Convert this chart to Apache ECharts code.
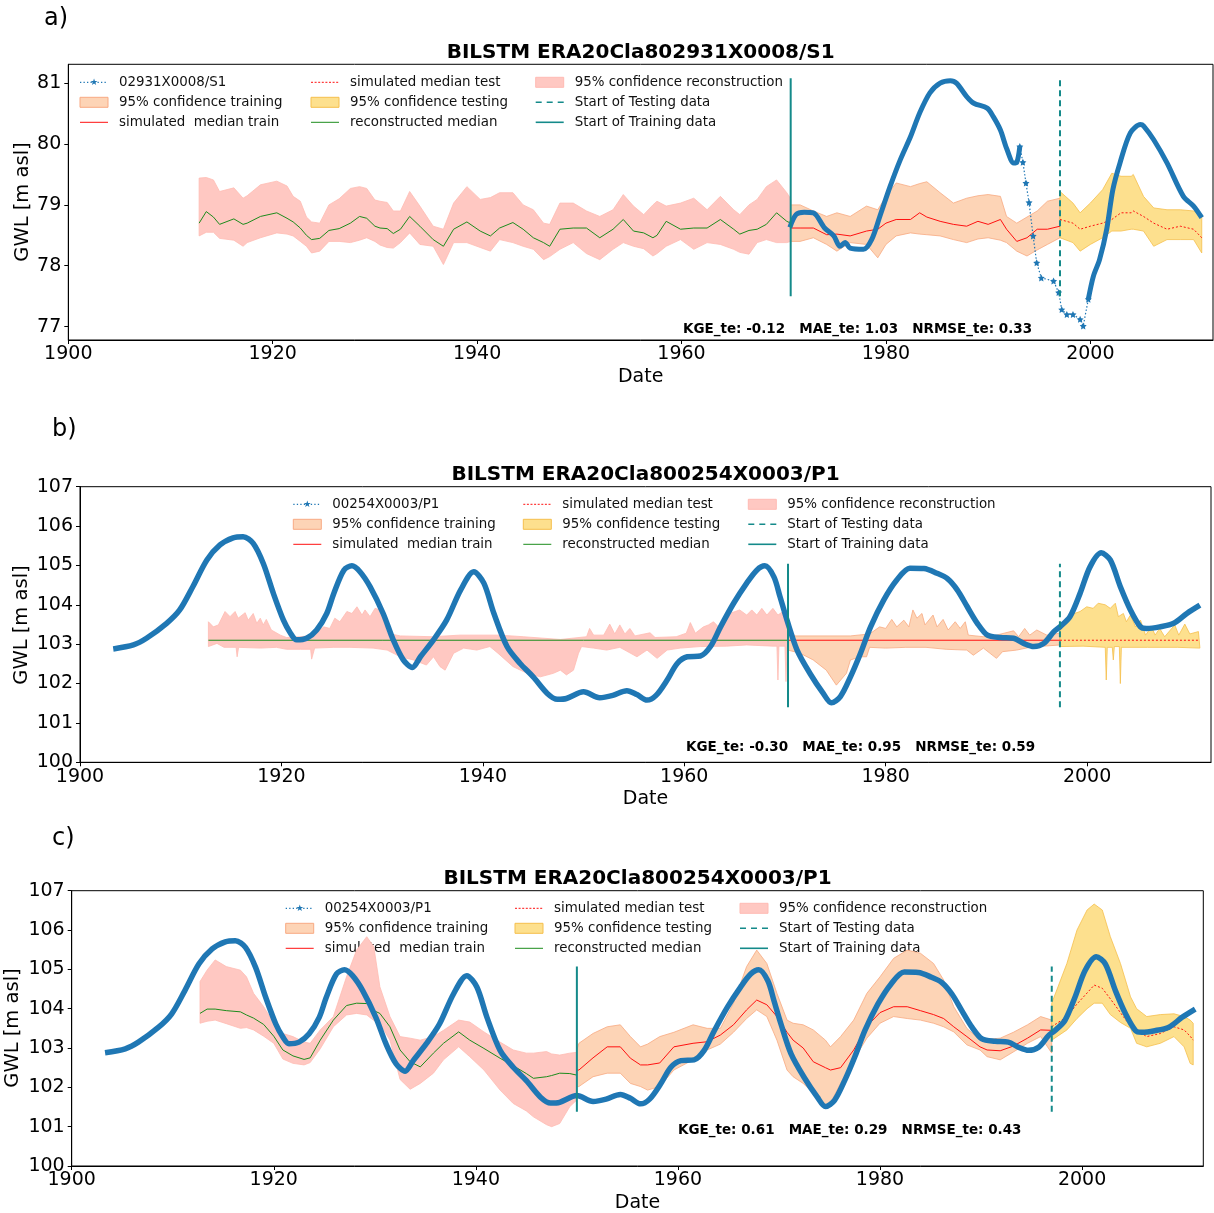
<!DOCTYPE html>
<html><head><meta charset="utf-8">
<script src="https://cdn.jsdelivr.net/npm/echarts@6.0.0/dist/echarts.min.js"></script>
<style>html,body{margin:0;padding:0;background:#fff}#chart{width:1214px;height:1213px}</style>
</head><body><div id="chart"></div>
<script>
// ---------------- tick labels ----------------
const xTicks = [1900, 1920, 1940, 1960, 1980, 2000];
const aYTicks = [77, 78, 79, 80, 81];
const bcYTicks = [100, 101, 102, 103, 104, 105, 106, 107];

// ---------------- panel a : 02931X0008/S1 ----------------
const aObsYears = [1970.6,1971.2,1972.0,1972.9,1974.0,1974.9,1975.5,1976.0,1976.5,1977.8,1978.6,1979.4,1980.4,1981.4,1982.4,1983.3,1984.3,1985.3,1986.3,1986.9,1987.9,1988.6,1989.9,1990.5,1991.2,1991.8,1992.5,1992.8,1993.1,1993.4,1993.7,1994.0,1994.4,1994.75,1995.2,1996.4,1996.9,1997.2,1997.7,1998.3,1999.0,1999.3,1999.8,2000.3,2000.9,2001.6,2002.2,2002.9,2003.9,2004.9,2005.2,2006.2,2007.5,2009.1,2010.1,2010.9];
const aObsLevels = [78.63,78.84,78.88,78.87,78.62,78.49,78.32,78.38,78.29,78.27,78.43,78.81,79.30,79.74,80.12,80.51,80.84,81.00,81.04,81.00,80.78,80.67,80.59,80.45,80.23,79.93,79.69,79.70,79.96,79.70,79.36,79.04,78.49,78.05,77.80,77.75,77.56,77.28,77.20,77.20,77.12,77.01,77.45,77.83,78.10,78.60,79.25,79.69,80.18,80.32,80.30,80.07,79.69,79.14,78.98,78.79];
// period in which the record is sparse (only scattered star markers)
const aObsSparse = [1993.1, 1999.8];

const aRecYears = [1912.8,1913.5,1914.2,1914.8,1916.2,1917.1,1917.5,1918.8,1920.4,1921.4,1922.0,1922.7,1923.3,1923.8,1924.6,1925.5,1926.5,1927.6,1928.5,1929.2,1930.0,1930.5,1931.2,1931.8,1932.5,1933.4,1934.4,1935.7,1936.7,1937.7,1939.0,1940.3,1941.3,1942.2,1943.5,1944.5,1945.5,1946.5,1947.1,1948.1,1949.4,1950.7,1952.0,1953.3,1954.3,1955.3,1956.3,1957.2,1957.6,1958.5,1959.9,1961.2,1962.5,1963.8,1965.1,1965.7,1966.6,1967.4,1968.3,1969.3,1970.3,1970.68];
const aRecLower = [78.49,78.55,78.55,78.45,78.42,78.32,78.38,78.46,78.54,78.52,78.49,78.40,78.32,78.21,78.24,78.40,78.40,78.38,78.42,78.46,78.40,78.34,78.30,78.29,78.38,78.54,78.35,78.32,78.02,78.38,78.38,78.30,78.24,78.43,78.38,78.32,78.27,78.10,78.15,78.27,78.38,78.20,78.10,78.27,78.38,78.32,78.28,78.16,78.20,78.32,78.43,78.27,78.38,78.35,78.27,78.22,78.19,78.38,78.43,78.38,78.38,78.40];
const aRecMedian = [78.70,78.89,78.80,78.68,78.77,78.68,78.70,78.81,78.87,78.78,78.72,78.62,78.50,78.43,78.45,78.58,78.61,78.70,78.81,78.78,78.65,78.62,78.61,78.53,78.60,78.81,78.65,78.43,78.32,78.60,78.72,78.57,78.49,78.62,78.71,78.60,78.46,78.38,78.32,78.60,78.62,78.62,78.46,78.60,78.76,78.57,78.54,78.46,78.50,78.73,78.60,78.62,78.62,78.76,78.60,78.52,78.58,78.60,78.68,78.87,78.73,78.70];
const aRecUpper = [79.44,79.45,79.41,79.22,79.28,79.11,79.15,79.33,79.39,79.31,79.14,79.06,78.80,78.72,78.70,79.00,79.10,79.27,79.30,79.27,79.08,79.06,79.04,78.90,78.90,79.22,78.98,78.65,78.60,79.03,79.30,79.09,79.12,79.20,79.20,79.00,78.92,78.70,78.68,79.03,79.03,78.90,78.81,78.92,79.17,78.98,78.84,79.00,79.06,78.98,79.03,79.11,78.92,79.14,78.92,78.84,79.00,79.09,79.30,79.41,79.20,79.10];

const aTrainYears = [1970.68,1971.6,1972.9,1974.2,1975.2,1976.5,1978.1,1979.2,1980.0,1981.0,1982.4,1983.3,1984.0,1985.3,1986.6,1987.9,1989.0,1990.0,1991.2,1991.8,1992.8,1993.8,1994.8,1995.8,1997.03];
const aTrainLower = [78.40,78.40,78.46,78.35,78.24,78.38,78.35,78.13,78.35,78.49,78.54,78.52,78.51,78.49,78.43,78.38,78.44,78.46,78.42,78.38,78.24,78.16,78.26,78.35,78.46];
const aTrainMedian = [78.62,78.62,78.62,78.51,78.52,78.49,78.57,78.60,78.70,78.76,78.76,78.87,78.80,78.73,78.68,78.65,78.73,78.68,78.76,78.60,78.40,78.46,78.60,78.60,78.65];
const aTrainUpper = [79.00,79.00,78.90,78.81,78.87,78.81,78.98,78.92,79.14,79.36,79.30,79.35,79.38,79.20,79.03,79.11,79.15,79.17,79.14,78.81,78.70,78.80,78.90,79.06,79.11];

const aTestYears = [1997.03,1998.3,1999.0,2000.0,2001.2,2002.1,2003.0,2004.0,2004.2,2005.2,2006.2,2007.5,2008.8,2010.1,2010.9];
const aTestLower = [78.46,78.38,78.24,78.35,78.46,78.57,78.57,78.60,78.60,78.57,78.32,78.43,78.43,78.43,78.21];
const aTestMedian = [78.76,78.70,78.60,78.65,78.70,78.76,78.87,78.87,78.90,78.81,78.70,78.60,78.65,78.60,78.46];
const aTestUpper = [79.22,79.03,78.87,79.03,79.25,79.52,79.47,79.47,79.50,79.14,78.95,78.92,78.92,78.90,78.81];

const aStartLines = [1970.68, 1997.03];
const aStartSpan = [77.50, 81.08];

// ---------------- panels b & c : 00254X0003/P1 (same observed well) ----------------
const pObsYears = [1903.3,1905.3,1906.6,1908.6,1909.9,1911.2,1912.6,1913.9,1915.2,1916.2,1917.2,1918.2,1919.2,1920.2,1920.9,1921.5,1922.5,1923.5,1924.5,1925.2,1926.2,1927.0,1927.8,1928.8,1930.1,1931.1,1932.1,1933.0,1933.8,1935.1,1936.4,1937.8,1939.1,1940.1,1941.1,1942.4,1943.7,1945.0,1946.4,1947.4,1948.3,1950.0,1951.6,1952.9,1954.3,1955.3,1956.3,1957.2,1958.3,1959.3,1960.3,1961.6,1962.6,1963.6,1964.9,1966.2,1967.2,1968.0,1968.9,1969.5,1970.2,1971.2,1972.5,1973.8,1974.6,1975.5,1976.5,1977.5,1978.5,1979.8,1981.1,1982.4,1983.8,1985.1,1986.1,1987.1,1988.1,1989.1,1990.1,1991.4,1992.7,1993.7,1994.7,1995.7,1996.7,1997.3,1998.3,1999.3,2000.3,2001.4,2002.3,2003.3,2004.3,2005.3,2005.9,2007.2,2008.6,2009.9,2011.2];
const pObsLevels = [102.88,102.98,103.15,103.53,103.87,104.46,105.14,105.52,105.70,105.73,105.56,105.05,104.29,103.61,103.28,103.11,103.15,103.36,103.78,104.29,104.88,104.99,104.84,104.46,103.78,103.11,102.60,102.41,102.68,103.11,103.61,104.38,104.84,104.55,103.78,102.94,102.51,102.17,101.75,101.60,101.62,101.79,101.64,101.70,101.82,101.72,101.58,101.70,102.09,102.51,102.68,102.70,102.94,103.44,104.04,104.55,104.88,104.99,104.71,104.21,103.61,102.85,102.25,101.75,101.51,101.67,102.17,102.77,103.44,104.12,104.63,104.93,104.92,104.80,104.67,104.38,103.95,103.53,103.23,103.17,103.15,103.02,102.94,103.02,103.32,103.44,103.70,104.29,104.97,105.32,105.14,104.46,103.87,103.44,103.40,103.44,103.53,103.78,103.99];

// panel b (band edges read separately: they are jagged)
const bRecYears = [1912.75, 1930.0, 1950.0, 1970.3];
const bRecMedian = [103.10, 103.10, 103.10, 103.10];
const bRecUpperYears = [1912.75,1913.24,1913.74,1914.4,1914.9,1915.4,1915.7,1916.4,1916.7,1917.2,1917.55,1917.9,1918.2,1918.5,1919.0,1919.9,1920.5,1921.9,1923.2,1924.2,1924.8,1925.3,1925.8,1926.5,1927.0,1927.5,1928.0,1928.3,1928.8,1929.3,1929.8,1930.5,1931.8,1935.0,1937.7,1941.7,1944.0,1947.7,1950.3,1950.6,1951.0,1952.0,1952.6,1953.1,1953.6,1954.1,1954.6,1955.1,1956.6,1957.1,1959.2,1960.2,1960.6,1961.1,1961.9,1962.4,1962.9,1963.4,1963.9,1964.5,1965.5,1966.2,1966.7,1967.2,1967.7,1968.2,1968.8,1969.3,1969.8,1970.2,1970.3];
const bRecUpper = [103.57,103.44,103.49,103.83,103.70,103.83,103.66,103.80,103.61,103.78,103.53,103.66,103.49,103.63,103.36,103.23,103.17,103.19,103.23,103.44,103.40,103.66,103.57,103.83,103.78,103.95,103.74,103.87,103.70,103.91,103.87,103.28,103.21,103.19,103.23,103.23,103.19,103.12,103.19,103.40,103.23,103.23,103.51,103.26,103.49,103.26,103.40,103.21,103.29,103.17,103.19,103.28,103.55,103.28,103.44,103.49,103.57,103.44,103.63,103.78,103.87,103.74,103.87,103.74,103.91,103.74,103.91,103.74,103.83,103.74,103.40];
const bRecLowerYears = [1912.75,1913.6,1914.3,1915.5,1915.6,1915.75,1917.9,1919.5,1920.5,1921.9,1922.9,1923.0,1923.3,1925.2,1926.8,1929.1,1930.5,1931.8,1933.1,1934.4,1935.1,1935.75,1936.25,1937.1,1938.1,1939.4,1940.7,1941.5,1943.0,1944.4,1945.7,1947.0,1947.7,1948.3,1949.0,1949.5,1949.8,1951.0,1952.3,1953.6,1955.3,1956.3,1957.3,1958.3,1959.6,1961.6,1964.2,1966.2,1968.8,1969.2,1969.3,1969.4,1970.0,1970.1,1970.2,1970.3];
const bRecLower = [102.94,103.02,102.92,102.92,102.68,102.92,102.90,102.92,102.87,102.87,102.87,102.62,102.90,102.92,102.92,102.90,102.85,102.68,102.60,102.47,102.68,102.43,102.34,102.77,102.90,102.85,102.94,102.77,102.43,102.26,102.17,102.26,102.34,102.22,102.34,102.77,102.94,102.90,102.85,102.92,102.68,102.85,102.64,102.85,102.90,102.94,102.95,102.98,102.95,102.95,102.09,102.95,102.95,102.05,102.92,102.90];

const bTrainYears = [1970.3, 1997.3];
const bTrainMedian = [103.10, 103.10];
const bTrainUpperYears = [1970.3,1971.0,1976.5,1978.4,1979.4,1980.0,1980.6,1981.1,1981.8,1982.3,1982.7,1983.1,1983.6,1983.9,1984.7,1985.1,1985.7,1986.2,1986.9,1987.4,1987.9,1988.2,1989.7,1991.0,1992.7,1993.2,1993.8,1994.3,1995.0,1996.0,1997.3];
const bTrainUpper = [103.40,103.21,103.21,103.26,103.44,103.40,103.63,103.44,103.61,103.44,103.87,103.66,103.78,103.49,103.74,103.44,103.63,103.36,103.57,103.40,103.57,103.23,103.19,103.23,103.34,103.19,103.40,103.23,103.36,103.23,103.28];
const bTrainLowerYears = [1970.3,1971.5,1972.8,1974.1,1975.1,1976.1,1976.5,1977.5,1978.1,1978.4,1980.0,1982.0,1984.0,1986.0,1988.05,1988.7,1989.7,1991.0,1991.6,1993.0,1994.3,1995.7,1997.3];
const bTrainLower = [102.85,102.77,102.60,102.34,101.96,102.26,102.60,102.68,102.68,102.92,102.90,102.92,102.92,102.87,102.85,102.72,102.90,102.64,102.81,102.85,102.92,102.95,102.98];

const bTestYears = [1997.3, 2011.2];
const bTestMedian = [103.10, 103.10];
const bTestUpperYears = [1997.3,1998.3,1999.3,1999.96,2000.6,2001.1,2001.8,2002.3,2002.8,2003.1,2003.6,2003.9,2004.3,2004.8,2005.3,2005.8,2006.4,2006.75,2007.2,2007.7,2008.7,2009.1,2009.7,2010.2,2011.05,2011.2];
const bTestUpper = [103.49,103.74,103.83,103.95,103.91,104.04,104.00,103.91,104.04,103.70,103.78,103.57,103.74,103.44,103.61,103.23,103.44,103.23,103.40,103.19,103.49,103.23,103.51,103.26,103.32,102.90];
const bTestLowerYears = [1997.3,1999.6,2001.8,2001.9,2002.0,2002.5,2002.6,2002.7,2003.2,2003.3,2003.4,2006.0,2009.0,2011.2];
const bTestLower = [102.94,102.95,102.92,102.09,102.92,102.92,102.60,102.94,102.94,102.00,102.92,102.92,102.92,102.90];

const bStartLines = [1970.3, 1997.3];
const bStartSpan = [101.40, 105.04];

// panel c
const cRecYears = [1912.7,1913.4,1914.2,1915.3,1916.7,1917.3,1918.0,1919.0,1920.0,1920.9,1921.9,1923.0,1923.6,1924.6,1925.9,1927.2,1928.2,1929.2,1929.9,1930.5,1931.5,1932.5,1933.5,1934.5,1935.8,1936.8,1938.3,1939.4,1940.8,1942.4,1943.7,1945.0,1945.7,1947.0,1947.5,1948.3,1949.3,1950.0];
const cRecLower = [103.63,103.68,103.71,103.62,103.50,103.52,103.46,103.30,103.12,102.72,102.61,102.57,102.63,102.98,103.54,103.84,103.88,103.84,103.70,103.63,103.20,102.20,101.95,102.10,102.36,102.70,103.03,102.78,102.44,101.93,101.59,101.40,101.25,101.05,101.00,101.08,101.51,101.68];
const cRecMedian = [103.88,103.99,103.99,103.95,103.92,103.84,103.76,103.60,103.30,102.95,102.80,102.71,102.75,103.20,103.71,104.08,104.14,104.13,103.95,103.88,103.54,102.95,102.65,102.52,102.87,103.12,103.41,103.20,102.99,102.74,102.55,102.35,102.23,102.27,102.30,102.36,102.35,102.31];
const cRecUpper = [104.69,104.98,105.24,105.07,104.98,104.81,104.39,104.05,103.63,103.37,103.29,103.15,103.12,103.46,103.80,104.81,105.49,105.83,105.58,104.56,103.80,103.29,103.25,103.20,103.29,103.45,103.71,103.66,103.41,103.15,102.95,102.87,102.87,102.91,102.85,102.82,102.87,102.89];

const cTrainYears = [1950.0,1950.2,1951.6,1953.0,1954.3,1955.3,1956.3,1957.0,1958.2,1959.6,1961.5,1962.9,1964.2,1965.5,1966.8,1967.8,1968.8,1969.8,1970.8,1971.4,1972.4,1973.4,1974.6,1975.1,1976.1,1977.4,1978.7,1980.0,1981.35,1982.7,1984.0,1985.3,1986.3,1987.3,1988.6,1989.9,1990.6,1991.9,1993.2,1994.6,1995.9,1997.0];
const cTrainLower = [102.02,102.02,102.27,102.36,102.36,102.10,102.02,101.93,102.02,102.44,102.70,102.95,103.10,103.40,103.75,103.97,103.80,103.20,102.44,102.27,102.10,101.85,101.55,101.60,102.10,102.70,103.25,103.63,103.80,103.75,103.71,103.63,103.54,103.41,103.08,102.95,102.78,102.70,102.90,103.12,103.29,102.87];
const cTrainMedian = [102.44,102.44,102.75,103.03,103.03,102.74,102.57,102.57,102.62,103.03,103.12,103.16,103.33,103.59,103.97,104.22,104.10,103.80,103.40,103.20,103.00,102.65,102.50,102.44,102.50,102.95,103.55,103.90,104.05,104.05,103.95,103.85,103.75,103.54,103.29,103.03,102.95,102.93,103.05,103.25,103.46,103.45];
const cTrainUpper = [102.95,103.12,103.37,103.54,103.59,103.29,103.03,103.10,103.29,103.40,103.59,103.50,103.50,104.14,105.07,105.49,105.15,104.39,103.71,103.63,103.59,103.46,103.20,103.03,103.29,103.71,104.39,104.81,105.28,105.49,105.41,105.15,104.73,104.05,103.50,103.20,103.22,103.25,103.40,103.59,103.80,103.71];

const cTestYears = [1997.0,1998.5,1999.5,2000.5,2001.2,2002.0,2002.8,2003.8,2004.8,2005.4,2006.4,2007.75,2009.1,2010.1,2010.7,2011.0];
const cTestLower = [103.20,103.46,103.75,104.00,104.14,104.14,103.85,103.65,103.50,103.12,103.03,103.12,103.29,103.03,102.61,102.57];
const cTestMedian = [103.54,103.80,104.12,104.40,104.60,104.52,104.25,103.90,103.55,103.46,103.29,103.37,103.54,103.46,103.30,103.20];
const cTestUpper = [104.14,105.15,106.00,106.51,106.66,106.51,105.83,105.15,104.30,104.00,103.80,103.85,103.87,103.80,103.71,103.63];

const cStartLines = [1950.0, 1997.0];
const cStartSpan = [101.38, 105.07];

// ---------------- styles / layout ----------------
const FONT = 'DejaVu Sans';
const COL = {
  obs: '#1f77b4',
  recFill: '#ffc8c2', recEdge: '#ffbbb3',
  trainFill: '#fdd4b6', trainEdge: '#f8a982',
  testFill: '#fde08e', testEdge: '#f5bf4c',
  green: '#1c8c1c', red: '#ff1010', teal: '#148a8a', text: '#111'
};
const STAR = 'path://M0,-10L2.9,-4L9.5,-3.1L4.7,1.5L5.9,8.1L0,5L-5.9,8.1L-4.7,1.5L-9.5,-3.1L-2.9,-4Z';

// band descriptor: median years/values + upper and lower edges (with their own years)
const band = (x, med, upX, up, loX, lo) => ({ x, med, upX, up, loX, lo });

const panels = [
  { grid: {left: 68.3, top: 64.3, width: 1144.7, height: 275.7}, xMax: 2012.0, yMin: 76.78, yMax: 81.31, yTicks: aYTicks,
    obs: [aObsYears, aObsLevels], sparse: aObsSparse,
    rec: band(aRecYears, aRecMedian, aRecYears, aRecUpper, aRecYears, aRecLower),
    train: band(aTrainYears, aTrainMedian, aTrainYears, aTrainUpper, aTrainYears, aTrainLower),
    test: band(aTestYears, aTestMedian, aTestYears, aTestUpper, aTestYears, aTestLower),
    starts: aStartLines, span: aStartSpan,
    title: 'BILSTM ERA20Cla802931X0008/S1', titleY: 52.5, tag: 'a)', tagPos: [44, 19],
    metrics: 'KGE_te: -0.12   MAE_te: 1.03   NRMSE_te: 0.33', metricsPos: [683, 329],
    obsName: '02931X0008/S1', legendX: [80, 311, 535.7], legendY: 82.3,
    ylabelPos: [23, 202], xlabelPos: [640.7, 377] },
  { grid: {left: 80, top: 486.7, width: 1131, height: 275.6}, xMax: 2012.3, yMin: 100, yMax: 107, yTicks: bcYTicks,
    obs: [pObsYears, pObsLevels], sparse: null,
    rec: band(bRecYears, bRecMedian, bRecUpperYears, bRecUpper, bRecLowerYears, bRecLower),
    train: band(bTrainYears, bTrainMedian, bTrainUpperYears, bTrainUpper, bTrainLowerYears, bTrainLower),
    test: band(bTestYears, bTestMedian, bTestUpperYears, bTestUpper, bTestLowerYears, bTestLower),
    starts: bStartLines, span: bStartSpan,
    title: 'BILSTM ERA20Cla800254X0003/P1', titleY: 474.5, tag: 'b)', tagPos: [52, 430],
    metrics: 'KGE_te: -0.30   MAE_te: 0.95   NRMSE_te: 0.59', metricsPos: [686, 747],
    obsName: '00254X0003/P1', legendX: [293.3, 523.3, 748.3], legendY: 504.3,
    ylabelPos: [22, 625], xlabelPos: [645.5, 799] },
  { grid: {left: 71.7, top: 890.7, width: 1131.6, height: 275.3}, xMax: 2012.0, yMin: 100, yMax: 107, yTicks: bcYTicks,
    obs: [pObsYears, pObsLevels], sparse: null,
    rec: band(cRecYears, cRecMedian, cRecYears, cRecUpper, cRecYears, cRecLower),
    train: band(cTrainYears, cTrainMedian, cTrainYears, cTrainUpper, cTrainYears, cTrainLower),
    test: band(cTestYears, cTestMedian, cTestYears, cTestUpper, cTestYears, cTestLower),
    starts: cStartLines, span: cStartSpan,
    title: 'BILSTM ERA20Cla800254X0003/P1', titleY: 878.5, tag: 'c)', tagPos: [52, 839],
    metrics: 'KGE_te: 0.61   MAE_te: 0.29   NRMSE_te: 0.43', metricsPos: [678, 1130],
    obsName: '00254X0003/P1', legendX: [285.7, 515, 740], legendY: 908.3,
    ylabelPos: [13, 1028], xlabelPos: [637.5, 1203] }
];

// ---------------- builders ----------------
function pairs(xs, ys) { return xs.map((x, i) => [x, ys[i]]); }

function bandSeries(gi, b, fill, edge) {
  return {
    type: 'custom', xAxisIndex: gi, yAxisIndex: gi, silent: true, animation: false, z: 2,
    data: [[b.upX[0], b.up[0]]],
    renderItem: function (params, api) {
      const pts = [];
      for (let i = 0; i < b.upX.length; i++) pts.push(api.coord([b.upX[i], b.up[i]]));
      for (let i = b.loX.length - 1; i >= 0; i--) pts.push(api.coord([b.loX[i], b.lo[i]]));
      return { type: 'polygon', shape: { points: pts }, style: { fill: fill, stroke: edge, lineWidth: 0.8 } };
    }
  };
}

function lineSeries(gi, data, color, width, type, z, extra) {
  return Object.assign({
    type: 'line', xAxisIndex: gi, yAxisIndex: gi, data: data,
    symbol: 'none', showSymbol: false, silent: true, animation: false, z: z || 3,
    lineStyle: { color: color, width: width, type: type || 'solid' }
  }, extra || {});
}

const grids = [], xAxes = [], yAxes = [], series = [], graphics = [];
const plain = v => String(v);

panels.forEach((p, gi) => {
  grids.push(Object.assign({ show: true, borderColor: '#000', borderWidth: 1, backgroundColor: 'transparent', containLabel: false }, p.grid));
  xAxes.push({
    type: 'value', gridIndex: gi, min: 1900, max: p.xMax, splitLine: { show: false },
    axisLine: { show: true, onZero: false, lineStyle: { color: '#000', width: 1 } },
    axisTick: { show: true, length: 4, lineStyle: { color: '#000' }, customValues: xTicks },
    axisLabel: { customValues: xTicks, formatter: plain, fontSize: 19, color: '#000', fontFamily: FONT, margin: 5 }
  });
  yAxes.push({
    type: 'value', gridIndex: gi, min: p.yMin, max: p.yMax, splitLine: { show: false },
    axisLine: { show: true, onZero: false, lineStyle: { color: '#000', width: 1 } },
    axisTick: { show: true, length: 4, lineStyle: { color: '#000' }, customValues: p.yTicks },
    axisLabel: { customValues: p.yTicks, formatter: plain, fontSize: 19, color: '#000', fontFamily: FONT, margin: 7 }
  });

  // confidence bands
  series.push(bandSeries(gi, p.rec, COL.recFill, COL.recEdge));
  series.push(bandSeries(gi, p.train, COL.trainFill, COL.trainEdge));
  series.push(bandSeries(gi, p.test, COL.testFill, COL.testEdge));
  // medians
  series.push(lineSeries(gi, pairs(p.rec.x, p.rec.med), COL.green, 1, 'solid', 3));
  series.push(lineSeries(gi, pairs(p.train.x, p.train.med), COL.red, 1, 'solid', 3));
  series.push(lineSeries(gi, pairs(p.test.x, p.test.med), COL.red, 1, [2, 2], 3));
  // observations
  const obs = pairs(p.obs[0], p.obs[1]);
  if (p.sparse) {
    const s0 = p.sparse[0], s1 = p.sparse[1];
    series.push(lineSeries(gi, obs.filter(d => d[0] <= s0), COL.obs, 5, 'solid', 4, { smooth: 0.3 }));
    series.push(lineSeries(gi, obs.filter(d => d[0] >= s0 && d[0] <= s1), COL.obs, 1.2, [1.5, 2], 4,
      { symbol: STAR, showSymbol: true, symbolSize: 7, itemStyle: { color: COL.obs } }));
    series.push(lineSeries(gi, obs.filter(d => d[0] >= s1), COL.obs, 5, 'solid', 4, { smooth: 0.3 }));
  } else {
    series.push(lineSeries(gi, obs, COL.obs, 5.5, 'solid', 4, { smooth: 0.3 }));
  }
  // start lines
  series.push(lineSeries(gi, pairs([p.starts[0], p.starts[0]], p.span), COL.teal, 2, 'solid', 5));
  series.push(lineSeries(gi, pairs([p.starts[1], p.starts[1]], p.span), COL.teal, 2, [6, 4], 5));

  // texts
  const cx = p.grid.left + p.grid.width / 2;
  graphics.push({ type: 'text', x: cx, y: p.titleY, silent: true,
    style: { text: p.title, font: 'bold 20px ' + FONT, fill: '#000', align: 'center', verticalAlign: 'middle' } });
  graphics.push({ type: 'text', x: p.tagPos[0], y: p.tagPos[1], silent: true,
    style: { text: p.tag, font: '24px ' + FONT, fill: '#000', align: 'left', verticalAlign: 'middle' } });
  graphics.push({ type: 'text', x: p.metricsPos[0], y: p.metricsPos[1], silent: true,
    style: { text: p.metrics, font: 'bold 13.5px ' + FONT, fill: '#000', align: 'left', verticalAlign: 'middle' } });
  graphics.push({ type: 'text', x: p.xlabelPos[0], y: p.xlabelPos[1], silent: true,
    style: { text: 'Date', font: '19px ' + FONT, fill: '#000', align: 'center', verticalAlign: 'middle' } });
  graphics.push({ type: 'text', x: p.ylabelPos[0], y: p.ylabelPos[1], rotation: Math.PI / 2, silent: true,
    style: { text: 'GWL [m asl]', font: '19.5px ' + FONT, fill: '#000', align: 'center', verticalAlign: 'middle' } });

  // legend (3 columns x 3 rows, column-major like matplotlib)
  const L = p.legendX, Y0 = p.legendY, DY = 20, SW = 28, TX = 39;
  const lineSym = (x, y, color, w, dash) => ({ type: 'line', silent: true,
    shape: { x1: x, y1: y, x2: x + SW, y2: y }, style: { stroke: color, lineWidth: w, lineDash: dash || null } });
  const patch = (x, y, fill, edge) => ({ type: 'rect', silent: true,
    shape: { x: x, y: y - 5, width: SW, height: 10 }, style: { fill: fill, stroke: edge, lineWidth: 1 } });
  const label = (x, y, t) => ({ type: 'text', x: x + TX, y: y, silent: true,
    style: { text: t, font: '13.4px ' + FONT, fill: COL.text, align: 'left', verticalAlign: 'middle' } });

  // column 1
  graphics.push(lineSym(L[0], Y0, COL.obs, 1.3, [1.3, 2.2]));
  graphics.push({ type: 'text', x: L[0] + SW / 2, y: Y0, silent: true,
    style: { text: '\u2605', font: '9px ' + FONT, fill: COL.obs, align: 'center', verticalAlign: 'middle' } });
  graphics.push(label(L[0], Y0, p.obsName));
  graphics.push(patch(L[0], Y0 + DY, COL.trainFill, COL.trainEdge));
  graphics.push(label(L[0], Y0 + DY, '95% confidence training'));
  graphics.push(lineSym(L[0], Y0 + 2 * DY, COL.red, 1));
  graphics.push(label(L[0], Y0 + 2 * DY, 'simulated  median train'));
  // column 2
  graphics.push(lineSym(L[1], Y0, COL.red, 1, [2, 1.6]));
  graphics.push(label(L[1], Y0, 'simulated median test'));
  graphics.push(patch(L[1], Y0 + DY, COL.testFill, COL.testEdge));
  graphics.push(label(L[1], Y0 + DY, '95% confidence testing'));
  graphics.push(lineSym(L[1], Y0 + 2 * DY, COL.green, 1));
  graphics.push(label(L[1], Y0 + 2 * DY, 'reconstructed median'));
  // column 3
  graphics.push(patch(L[2], Y0, COL.recFill, COL.recEdge));
  graphics.push(label(L[2], Y0, '95% confidence reconstruction'));
  graphics.push(lineSym(L[2], Y0 + DY, COL.teal, 1.6, [6, 5]));
  graphics.push(label(L[2], Y0 + DY, 'Start of Testing data'));
  graphics.push(lineSym(L[2], Y0 + 2 * DY, COL.teal, 1.6));
  graphics.push(label(L[2], Y0 + 2 * DY, 'Start of Training data'));
});

const chart = echarts.init(document.getElementById('chart'), null, { renderer: 'canvas' });
chart.setOption({
  backgroundColor: '#fff',
  animation: false,
  textStyle: { fontFamily: FONT },
  grid: grids, xAxis: xAxes, yAxis: yAxes, series: series,
  graphic: { elements: graphics }
});
</script>
</body></html>
